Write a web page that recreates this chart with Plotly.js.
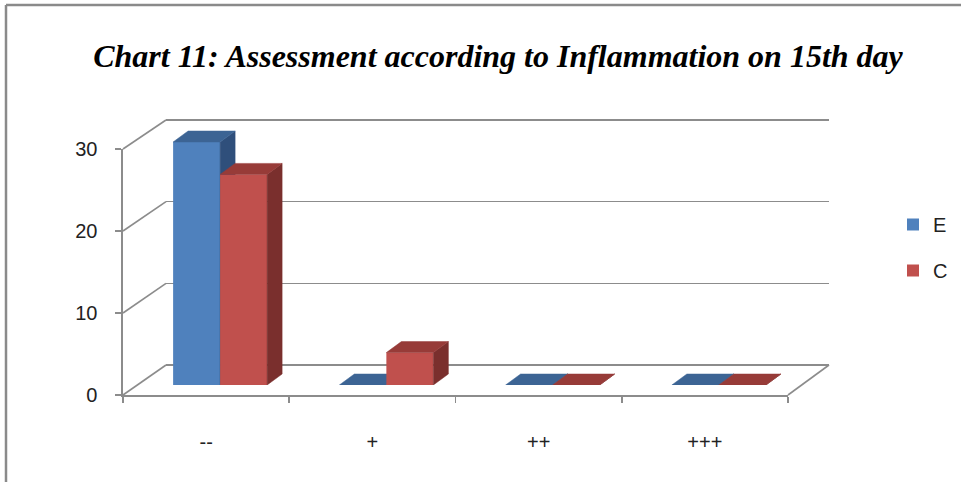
<!DOCTYPE html>
<html>
<head>
<meta charset="utf-8">
<script src="https://cdn.plot.ly/plotly-3.0.1.min.js"></script>
<style>
  html, body { margin: 0; padding: 0; background: #fff; }
  #chart { width: 961px; height: 482px; }
</style>
</head>
<body>
<div id="chart"></div>
<script>
// Inflammation grade categories and patient counts per group
const categories = ['--', '+', '++', '+++'];
const seriesE = [30, 0, 0, 0];
const seriesC = [26, 4, 0, 0];
const seriesNames = ['E', 'C'];
const yTicks = [0, 10, 20, 30];

// Palette: front face, top face, side face
const colorsE = { front: '#4F81BD', top: '#3C6494', side: '#2F4F7B' };
const colorsC = { front: '#C0504D', top: '#973B38', side: '#7A2F2D' };

const W = 961, H = 482;
const px = p => p / W;            // pixel x -> paper
const py = p => 1 - p / H;        // pixel y -> paper

// Pseudo-3D box geometry (pixels)
const front = { left: 123, right: 788, y0: 395, yTop: 149 };   // front floor edge / value axis
const back  = { left: 166, right: 829, y0: 365, yTop: 120 };   // back wall
const plane = { left: 137, right: 802, y0: 385, yTop: 142 };   // plane holding the bars' front faces
const yMax = 30;
const planeRangeMax = 40;
const planeScale = (plane.y0 - plane.yTop) / yMax;             // px per unit
const planeTopPx = plane.y0 - planeRangeMax * planeScale;

// Back wall axis gets a little padding so the 0 and 30 grid lines are drawn
const backPad = 1;
const backScale = (back.y0 - back.yTop) / yMax;

// Bar depth in pixels, converted into data units of the bar plane
const depthPx = { dx: 15, dy: 11 };
const catPx = (plane.right - plane.left) / categories.length;
const ddx = depthPx.dx / catPx;
const ddy = depthPx.dy / planeScale;
const barW = 47 / catPx;

const yFront = v => front.y0 - v * (front.y0 - front.yTop) / yMax;
const yBack  = v => back.y0 - v * backScale;

function faceTraces(values, offset, colors, xa, ya) {
  const traces = [];
  values.forEach((v, i) => {
    const xl = i + offset, xr = xl + barW;
    // side face
    traces.push({
      type: 'scatter', mode: 'lines', fill: 'toself', xaxis: xa, yaxis: ya,
      x: [xr, xr, xr + ddx, xr + ddx, xr],
      y: [0, v, v + ddy, ddy, 0],
      fillcolor: colors.side, line: { width: 0.5, color: colors.side },
      hoverinfo: 'skip', showlegend: false
    });
    // top face
    traces.push({
      type: 'scatter', mode: 'lines', fill: 'toself', xaxis: xa, yaxis: ya,
      x: [xl, xl + ddx, xr + ddx, xr, xl],
      y: [v, v + ddy, v + ddy, v, v],
      fillcolor: colors.top, line: { width: 0.5, color: colors.top },
      hoverinfo: 'skip', showlegend: false
    });
  });
  return traces;
}

const xIdx = categories.map((_, i) => i);

const data = [
  // anchors the front axes
  { type: 'scatter', mode: 'markers', x: categories, y: seriesE, xaxis: 'x', yaxis: 'y',
    marker: { opacity: 0 }, hoverinfo: 'skip', showlegend: false },
  // anchors the back wall grid
  { type: 'scatter', mode: 'markers', x: xIdx, y: seriesE, xaxis: 'x2', yaxis: 'y2',
    marker: { opacity: 0 }, hoverinfo: 'skip', showlegend: false },
  // series E
  { type: 'bar', name: seriesNames[0], x: xIdx, y: seriesE, xaxis: 'x3', yaxis: 'y3',
    width: barW, offset: -barW, marker: { color: colorsE.front, line: { width: 0 } },
    legendgroup: 'E', legendrank: 1 },
  ...faceTraces(seriesE, -barW, colorsE, 'x3', 'y3'),
  // series C (overlay so it paints over E)
  { type: 'bar', name: seriesNames[1], x: xIdx, y: seriesC, xaxis: 'x3', yaxis: 'y4',
    width: barW, offset: 0, marker: { color: colorsC.front, line: { width: 0 } },
    legendgroup: 'C', legendrank: 2 },
  ...faceTraces(seriesC, 0, colorsC, 'x3', 'y4')
];

const axisGray = '#8C8C8C';
const tickFont = { family: 'Liberation Sans, Arial, sans-serif', size: 20, color: '#222' };

// Side wall and right floor edges
const shapes = yTicks.map(v => ({
  type: 'line', xref: 'paper', yref: 'paper',
  x0: px(front.left), y0: py(yFront(v)), x1: px(back.left), y1: py(yBack(v)),
  line: { color: axisGray, width: 1.6 }
}));
shapes.push({
  type: 'line', xref: 'paper', yref: 'paper',
  x0: px(front.right), y0: py(front.y0), x1: px(back.right), y1: py(back.y0),
  line: { color: axisGray, width: 1.6 }
});
// outer frame (top and left edges)
shapes.push({ type: 'line', xref: 'paper', yref: 'paper', x0: px(6), y0: py(5), x1: 1.01, y1: py(5),
  line: { color: '#8A8A8A', width: 2.5 } });
shapes.push({ type: 'line', xref: 'paper', yref: 'paper', x0: px(6), y0: py(5), x1: px(6), y1: -0.01,
  line: { color: '#8A8A8A', width: 2.5 } });

const layout = {
  width: W, height: H,
  margin: { l: 0, r: 0, t: 0, b: 0 },
  paper_bgcolor: '#fff', plot_bgcolor: 'rgba(0,0,0,0)',
  showlegend: true,
  barmode: 'overlay',
  title: {
    text: 'Chart 11: Assessment according to Inflammation on 15th day',
    font: { family: 'Liberation Serif, Times New Roman, serif', size: 32, color: '#000',
            weight: 'bold', style: 'italic' },
    x: 498 / W, xanchor: 'center', y: py(56), yanchor: 'middle', yref: 'container'
  },
  legend: {
    x: px(893), xanchor: 'left', y: py(205), yanchor: 'top',
    font: { family: 'Liberation Sans, Arial, sans-serif', size: 20, color: '#222' },
    tracegroupgap: 17, bgcolor: 'rgba(0,0,0,0)'
  },
  xaxis: {
    type: 'category', domain: [px(front.left), px(front.right)], range: [-0.5, 3.5],
    anchor: 'y', showline: true, linecolor: axisGray, linewidth: 1.6,
    ticks: 'outside', tickson: 'boundaries', ticklen: 6, tickcolor: axisGray, tickwidth: 1.6,
    ticklabelstandoff: 28, showgrid: false, zeroline: false, fixedrange: true,
    tickfont: tickFont
  },
  yaxis: {
    domain: [py(front.y0), py(front.yTop)], range: [0, yMax], anchor: 'x',
    tickvals: yTicks, showline: true, linecolor: axisGray, linewidth: 1.6,
    ticks: 'outside', ticklen: 6, tickcolor: axisGray, tickwidth: 1.6,
    ticklabelstandoff: 14, showgrid: false, zeroline: false, fixedrange: true,
    tickfont: tickFont
  },
  xaxis2: {
    domain: [px(back.left), px(back.right)], range: [-0.5, 3.5], anchor: 'y2',
    visible: true, showgrid: false, showline: false, showticklabels: false, ticks: '',
    zeroline: false, fixedrange: true
  },
  yaxis2: {
    domain: [py(back.y0 + backPad * backScale), py(back.yTop - backPad * backScale)],
    range: [-backPad, yMax + backPad], anchor: 'x2',
    tickvals: yTicks, showgrid: true, gridcolor: axisGray, gridwidth: 1.6,
    showline: false, showticklabels: false, ticks: '', zeroline: false, fixedrange: true
  },
  xaxis3: {
    domain: [px(plane.left), px(plane.right)], range: [-0.5, 3.5], anchor: 'y3',
    visible: false, fixedrange: true
  },
  yaxis3: {
    domain: [py(plane.y0), py(planeTopPx)], range: [0, planeRangeMax], anchor: 'x3',
    visible: false, fixedrange: true
  },
  yaxis4: {
    overlaying: 'y3', range: [0, planeRangeMax], anchor: 'x3',
    visible: false, fixedrange: true
  },
  shapes: shapes
};

Plotly.newPlot('chart', data, layout, { displayModeBar: false, staticPlot: true });
</script>
</body>
</html>
